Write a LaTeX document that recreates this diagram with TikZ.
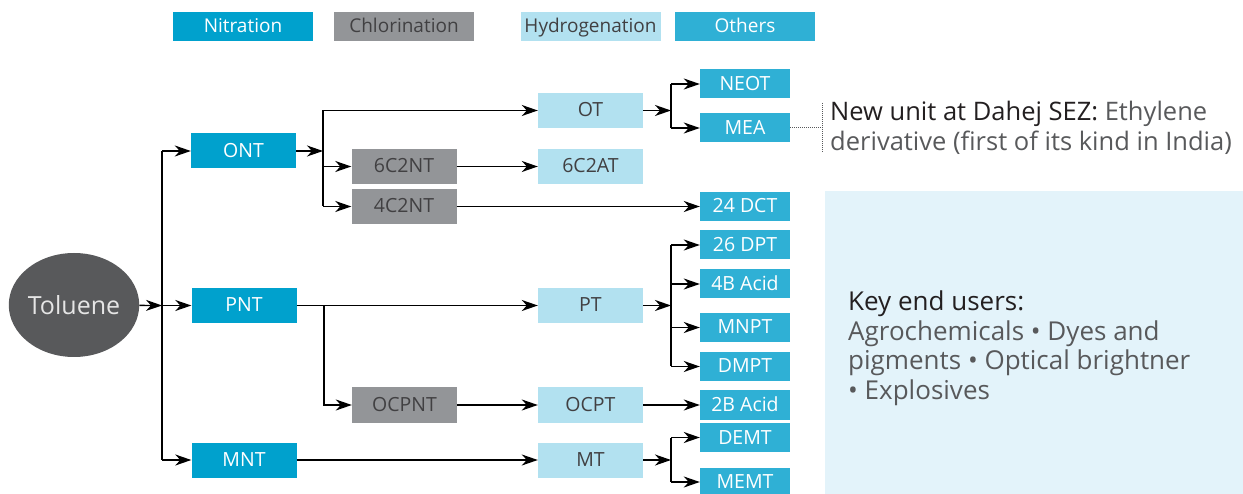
\documentclass[tikz,border=0pt]{standalone}
\usepackage{fontspec}
\setmainfont{Open Sans}
\usetikzlibrary{arrows.meta,shapes.geometric}
\definecolor{nitr}{HTML}{00A1CD}
\definecolor{chlor}{HTML}{939598}
\definecolor{hydro}{HTML}{B2E1F0}
\definecolor{others}{HTML}{2FB0D5}
\definecolor{tolc}{HTML}{58595B}
\definecolor{keybg}{HTML}{E3F3FA}
\definecolor{txt}{HTML}{414042}
\definecolor{dark}{HTML}{231F20}
\definecolor{grey}{HTML}{58595B}
\begin{document}
\begin{tikzpicture}[x=1pt,y=-1pt,
  box/.style={rectangle, inner sep=0pt, minimum width=105pt, minimum height=35pt, text height=13.5pt, text depth=0.5pt, font=\fontsize{19.5}{19.5}\selectfont},
  nbox/.style={box, fill=nitr, text=white},
  cbox/.style={box, fill=chlor, text=txt},
  hbox/.style={box, fill=hydro, text=txt},
  obox/.style={box, fill=others, text=white, minimum width=90pt, minimum height=29pt},
  leg/.style={rectangle, inner sep=0pt, minimum width=140pt, minimum height=29pt, text height=13.5pt, text depth=0.5pt, font=\fontsize{19}{19}\selectfont},
  arr/.style={-{Stealth[length=16pt,width=11pt,inset=5pt]}, line width=1.3pt},
  ln/.style={line width=1.3pt},
  dot/.style={densely dotted, line width=1pt, draw=grey}
]
\useasboundingbox (0,0) rectangle (1243,494);
% key box
\fill[keybg] (825,191) rectangle (1243,494);
% legend
\node[leg, fill=nitr, text=white] (lgn) at (243,26.5) {Nitration};
\node[leg, fill=chlor, text=txt] (lgc) at (404,26.5) {Chlorination};
\node[leg, fill=hydro, text=txt] (lgh) at (590.5,26.5) {Hydrogenation};
\node[leg, fill=others, text=white] (lgo) at (745,26.5) {Others};
% nodes
\node[ellipse, fill=tolc, text=white!90!black, minimum width=122pt, minimum height=104pt, inner sep=0pt, font=\fontsize{25}{25}\selectfont] (tol) at (74,305) {Toluene};
\node[nbox] (ont) at (243.5,151) {ONT};
\node[nbox] (pnt) at (244,305.5) {PNT};
\node[nbox] (mnt) at (244,460) {MNT};
\node[cbox] (c6) at (404,166.5) {6C2NT};
\node[cbox] (c4) at (404,206.5) {4C2NT};
\node[cbox] (ocpnt) at (404.5,405) {OCPNT};
\node[hbox] (ot) at (590.5,110.5) {OT};
\node[hbox] (c6at) at (590.5,166.5) {6C2AT};
\node[hbox] (pt) at (590.5,305.5) {PT};
\node[hbox] (ocpt) at (590.5,405) {OCPT};
\node[hbox] (mt) at (590.5,460) {MT};
\node[obox] (neot) at (745,84) {NEOT};
\node[obox] (mea) at (745,128) {MEA};
\node[obox] (dct) at (745,206.5) {24 DCT};
\node[obox] (dpt) at (745,245) {26 DPT};
\node[obox] (b4) at (745,284) {4B Acid};
\node[obox] (mnpt) at (745,327.5) {MNPT};
\node[obox] (dmpt) at (745,366.5) {DMPT};
\node[obox] (b2) at (745,405) {2B Acid};
\node[obox] (demt) at (745,437.5) {DEMT};
\node[obox] (memt) at (745,482) {MEMT};
% texts
\node[anchor=west, align=left, inner sep=0pt, font=\fontsize{25.5}{30}\selectfont, text=grey] (note) at (830,128)
  {\textcolor{dark}{New unit at Dahej SEZ:} Ethylene\\derivative (first of its kind in India)};
\node[anchor=west, align=left, inner sep=0pt, font=\fontsize{26}{29.5}\selectfont, text=grey] (key) at (848,348)
  {\textcolor{dark}{Key end users:}\\Agrochemicals • Dyes and\\pigments • Optical brightner\\• Explosives};
% junctions
\coordinate (j0) at (162,305.5);
\coordinate (jt) at (162,151);
\coordinate (jb) at (162,460);
\coordinate (j1) at (323,151);
\coordinate (j1a) at (323,110.5);
\coordinate (j1b) at (323,166.5);
\coordinate (j1c) at (323,206.5);
\coordinate (j2) at (324,305.5);
\coordinate (j2b) at (324,405);
\coordinate (j3) at (671,110.5);
\coordinate (j3a) at (671,84);
\coordinate (j3b) at (671,128);
\coordinate (j4) at (671,305.5);
\coordinate (j4a) at (671,245);
\coordinate (j4d) at (671,366.5);
\coordinate (j5) at (671,460);
\coordinate (j5a) at (671,437.5);
\coordinate (j5b) at (671,482);
\coordinate (bt) at (822,103);
\coordinate (bm) at (822,128);
\coordinate (bb) at (822,152);
% connectors
\draw[arr] (tol) -- (j0);
\draw[ln] (jt) -- (jb);
\draw[arr] (jt) -- (ont);
\draw[arr] (j0) -- (pnt);
\draw[arr] (jb) -- (mnt);
\draw[arr] (ont) -- (j1);
\draw[ln] (j1a) -- (j1c);
\draw[arr] (j1a) -- (ot);
\draw[arr] (j1b) -- (c6);
\draw[arr] (j1c) -- (c4);
\draw[arr] (c6) -- (c6at);
\draw[arr] (c4) -- (dct);
\draw[arr] (ot) -- (j3);
\draw[ln] (j3a) -- (j3b);
\draw[arr] (j3a) -- (neot);
\draw[arr] (j3b) -- (mea);
\draw[arr] (pnt) -- (pt);
\draw[arr] (j2) -- (j2b) -- (ocpnt);
\draw[arr] (ocpnt) -- (ocpt);
\draw[arr] (ocpt) -- (b2);
\draw[arr] (pt) -- (j4);
\draw[ln] (j4a) -- (j4d);
\draw[arr] (j4a) -- (dpt);
\draw[arr] (j4 |- b4) -- (b4);
\draw[arr] (j4 |- mnpt) -- (mnpt);
\draw[arr] (j4d) -- (dmpt);
\draw[arr] (mnt) -- (mt);
\draw[arr] (mt) -- (j5);
\draw[ln] (j5a) -- (j5b);
\draw[arr] (j5a) -- (demt);
\draw[arr] (j5b) -- (memt);
\draw[dot] (mea) -- (bm);
\draw[dot] (bt) -- (bb);
\end{tikzpicture}
\end{document}
